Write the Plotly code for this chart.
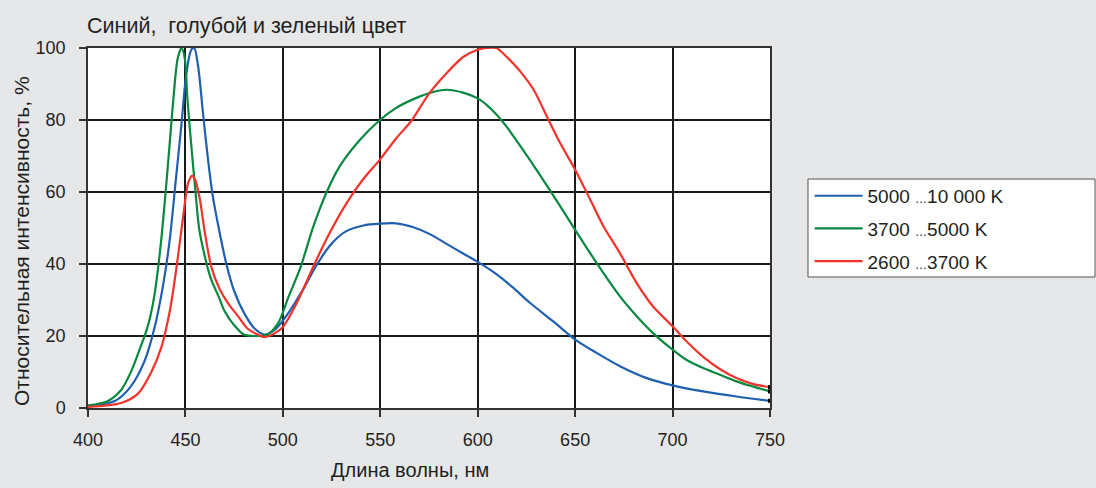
import plotly.graph_objects as go

# Spectral power distributions of white LEDs, relative intensity (%)
wl_blue = [400, 414, 422, 429, 434, 438.5, 442, 445, 448, 450.5, 453, 454.5, 456.5,
           459, 461.6, 464, 467.6, 471, 475, 480.5, 485.6, 490.7, 496, 501, 506,
           511, 516, 520, 524, 528, 532.8, 541.3, 549.8, 558, 567, 575.4, 584,
           592.5, 600, 609.6, 618, 626.6, 638.9, 650, 661, 673, 686.7, 700,
           715.7, 732.8, 750]
int_blue = [0.5, 2, 6, 13, 22, 34, 47, 63, 79, 93, 99.5, 100, 95,
            82, 69, 59, 48.6, 40, 32.5, 26, 22, 20.4, 21.8, 25, 29,
            33.5, 38.5, 42, 45, 47.3, 49.2, 50.7, 51.2, 51.3, 50.2, 48.3, 45.6,
            42.9, 40.6, 37.2, 33.5, 29.3, 24, 19, 15.3, 11.6, 8.3, 6.3,
            4.6, 3.2, 2]

wl_green = [400, 410, 417, 422, 427, 430, 432, 434, 436, 438, 440, 442, 444, 446,
            448, 449.7, 451, 453, 455, 457, 460, 463, 467, 470, 475, 480, 487,
            492, 497.6, 503, 509, 515.7, 522.5, 529, 539.6, 549.8, 558, 567,
            575.4, 584, 592.5, 600, 605, 610, 615, 620, 625, 630, 640, 650, 661,
            673, 681.6, 690, 700, 707, 715.7, 724, 732.8, 741, 750]
int_green = [0.7, 1.9, 5, 10, 17, 21.5, 25.5, 31, 39, 49, 61, 74, 87, 97,
             100, 97, 86, 73, 61, 50, 42, 36, 31, 27, 23, 20.4, 20,
             20.4, 23.6, 31, 39, 50.5, 60, 67, 74.5, 80, 83.3, 85.8,
             87.5, 88.4, 87.6, 86, 84, 81.3, 78, 74.2, 70.3, 66.3, 58, 49.5, 40.3,
             31, 25.5, 20.8, 16.2, 13.4, 11.1, 9.3, 7.4, 6, 4.6]

wl_red = [400, 417, 425.7, 432.5, 437.7, 442, 445.4, 448.8, 451.4, 453.4, 455,
          457.4, 460, 463.4, 467.6, 472, 477, 482, 487, 490.7, 496, 500, 507,
          515.7, 524, 532.8, 541, 549.8, 558, 566, 571, 575.4, 584, 592.5, 600,
          604.4, 609.6, 614, 618, 621.8, 628.7, 635.5, 642.3, 650, 657.7, 664.5,
          673, 681.6, 690, 700, 707, 715.7, 724, 732.8, 741, 750]
int_red = [0.3, 1.4, 4, 10, 17, 27, 39, 53, 62.5, 64.5, 63.4,
           58, 48.6, 39, 33, 29, 25.5, 22, 20.4, 19.7, 20.8, 22.5, 29,
           39.4, 48.6, 57, 63.4, 69, 74.8, 79.8, 84, 87.6, 93, 97.5, 99.5,
           100, 100, 98, 95.8, 93.5, 88.4, 81, 73.6, 66.2, 57.9, 50.5,
           43, 34.7, 28.2, 22.7, 18.6, 14.2, 10.9, 8.3, 6.7, 5.8]

small_dots = "<span style='font-size:12px'>…</span>"
names = [f"5000 {small_dots}10 000 K", f"3700 {small_dots}5000 K", f"2600 {small_dots}3700 K"]
colors = ["#1f5fb0", "#08893f", "#f2332b"]

x_ticks = [400, 450, 500, 550, 600, 650, 700, 750]
y_ticks = [0, 20, 40, 60, 80, 100]

font_family = "Liberation Sans, Arial, sans-serif"
text_color = "#231f20"
bg = "#e6e7e9"

fig = go.Figure()
series = [(wl_blue, int_blue), (wl_green, int_green), (wl_red, int_red)]
for i, ((xs, ys), name, col) in enumerate(zip(series, names, colors)):
    fig.add_trace(go.Scatter(
        x=xs, y=ys, mode="lines", name=name, legendgroup=f"g{i}",
        line=dict(color=col, width=2.2, shape="spline", smoothing=0.8),
    ))

# small black end markers at the right edge of the spectra
fig.add_trace(go.Scatter(
    x=[wl_blue[-1], wl_green[-1], wl_red[-1]],
    y=[int_blue[-1], int_green[-1], int_red[-1]],
    mode="markers", marker=dict(color="black", size=4, symbol="square"),
    showlegend=False, hoverinfo="skip", cliponaxis=False,
))

fig.update_layout(
    width=1096, height=488,
    paper_bgcolor=bg, plot_bgcolor="white",
    margin=dict(l=88, r=326, t=48, b=80),
    font=dict(family=font_family, size=18, color=text_color),
    showlegend=True,
    legend=dict(
        x=1.058, y=0.642, xanchor="left", yanchor="top",
        bgcolor="rgba(0,0,0,0)", borderwidth=0,
        font=dict(size=19, color=text_color),
        tracegroupgap=5, itemwidth=48,
    ),
    shapes=[
        # legend frame
        dict(type="rect", xref="paper", yref="paper",
             x0=1.0557, x1=1.4765, y0=0.3639, y1=0.636,
             fillcolor="white", line=dict(color="#555555", width=1), layer="below"),
    ],
    annotations=[
        dict(text="Синий,  голубой и зеленый цвет", xref="paper", yref="paper",
             x=0, y=1, xanchor="left", yanchor="middle", yshift=22, xshift=-3,
             showarrow=False, font=dict(size=21.5, color=text_color)),
        dict(text="Длина волны, нм", xref="paper", yref="paper",
             x=0.472, y=0, xanchor="center", yanchor="middle", yshift=-62,
             showarrow=False, font=dict(size=20, color=text_color)),
        dict(text="Относительная интенсивность, %", xref="paper", yref="paper",
             x=0, y=0.464, xanchor="center", yanchor="middle", xshift=-66,
             textangle=-90, showarrow=False, font=dict(size=21, color=text_color)),
    ],
)

fig.update_xaxes(
    range=[400, 750], tickvals=x_ticks, ticktext=[str(v) for v in x_ticks],
    showgrid=True, gridcolor="#1a1a1a", gridwidth=1.5,
    showline=True, linecolor="#333333", linewidth=1.5, mirror=True,
    ticks="outside", ticklen=7, tickcolor="#333333", tickwidth=1.5,
    zeroline=False, tickfont=dict(size=18), ticklabelstandoff=8,
)
fig.update_yaxes(
    range=[0, 100], tickvals=y_ticks, ticktext=[str(v) for v in y_ticks],
    showgrid=True, gridcolor="#1a1a1a", gridwidth=1.5,
    showline=True, linecolor="#333333", linewidth=1.5, mirror=True,
    ticks="outside", ticklen=7, tickcolor="#333333", tickwidth=1.5,
    zeroline=False, tickfont=dict(size=18), ticklabelstandoff=10,
)

fig.write_html("out.html")
